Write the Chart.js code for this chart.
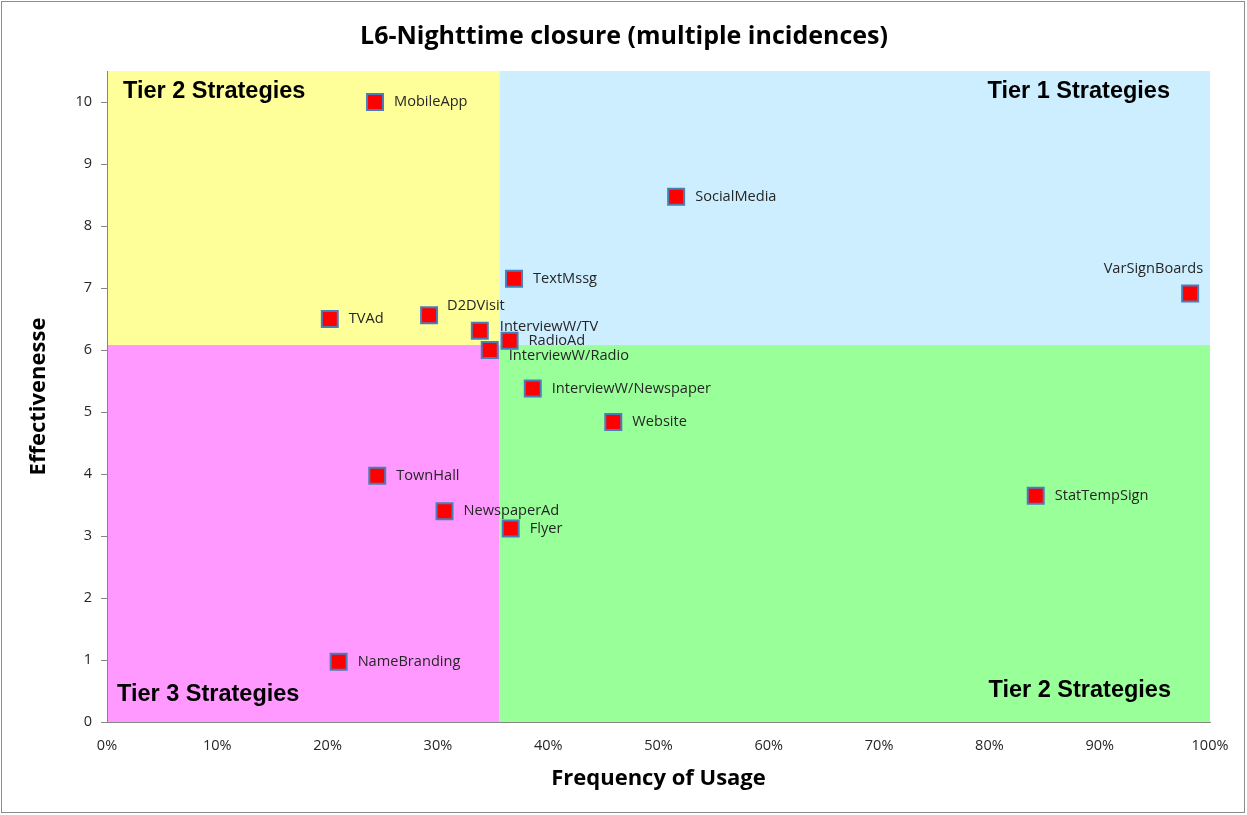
<!DOCTYPE html>
<html>
<head>
<meta charset="utf-8">
<title>L6-Nighttime closure</title>
<script src="https://cdn.jsdelivr.net/npm/chart.js@4.4.1/dist/chart.umd.min.js"></script>
<style>
  html, body { margin: 0; padding: 0; background: #fff; }
  canvas { display: block; }
</style>
</head>
<body>
<canvas id="chart" width="1247" height="815"></canvas>
<script>
// strategies, how often each one is used (%) and how effective it was rated
const strategies = ['MobileApp', 'SocialMedia', 'TextMssg', 'VarSignBoards', 'TVAd', 'D2DVisit',
    'InterviewW/TV', 'RadioAd', 'InterviewW/Radio', 'InterviewW/Newspaper', 'Website',
    'TownHall', 'StatTempSign', 'NewspaperAd', 'Flyer', 'NameBranding'];
const usage = [24.3, 51.6, 36.9, 98.2, 20.2, 29.2, 33.8, 36.5, 34.7, 38.6, 45.9, 24.5, 84.2, 30.6, 36.6, 21.0];
const effectiveness = [10.0, 8.47, 7.15, 6.91, 6.50, 6.56, 6.31, 6.15, 6.00, 5.38, 4.84, 3.97, 3.65, 3.40, 3.12, 0.97];

// where the quadrants split
const usageSplit = 35.6;
const effectSplit = 6.08;

const tierLabels = ['Tier 2 Strategies', 'Tier 1 Strategies', 'Tier 3 Strategies', 'Tier 2 Strategies'];

// labels that do not sit straight to the right of their marker
const labelOffsets = {
    'VarSignBoards': {dx: 13, dy: -25, align: 'right'},
    'D2DVisit': {dx: 18, dy: -9},
    'InterviewW/TV': {dx: 20, dy: -4},
    'InterviewW/Radio': {dx: 19, dy: 6}
};

const quadrantPlugin = {
    id: 'quadrants',
    beforeDraw(chart) {
        const ctx = chart.ctx;
        const a = chart.chartArea;
        const sx = chart.scales.x.getPixelForValue(usageSplit);
        const sy = chart.scales.y.getPixelForValue(effectSplit);
        ctx.save();
        ctx.fillStyle = '#fff';
        ctx.fillRect(0, 0, chart.width, chart.height);
        ctx.strokeStyle = '#8c8c8c';
        ctx.lineWidth = 1;
        ctx.strokeRect(1.5, 1.5, chart.width - 4, chart.height - 4);

        ctx.fillStyle = '#ffff99';
        ctx.fillRect(a.left, a.top, sx - a.left, sy - a.top);
        ctx.fillStyle = '#cceeff';
        ctx.fillRect(sx, a.top, a.right - sx, sy - a.top);
        ctx.fillStyle = '#ff99ff';
        ctx.fillRect(a.left, sy, sx - a.left, a.bottom - sy);
        ctx.fillStyle = '#99ff99';
        ctx.fillRect(sx, sy, a.right - sx, a.bottom - sy);
        ctx.restore();
    },
    beforeDatasetsDraw(chart) {
        const ctx = chart.ctx;
        const a = chart.chartArea;
        ctx.save();
        ctx.font = 'bold 23.5px "Liberation Sans", Arial, sans-serif';
        ctx.fillStyle = '#000';
        ctx.textBaseline = 'middle';
        ctx.textAlign = 'left';
        ctx.fillText(tierLabels[0], a.left + 16, a.top + 21);
        ctx.fillText(tierLabels[2], a.left + 10, a.bottom - 27);
        ctx.textAlign = 'right';
        ctx.fillText(tierLabels[1], a.right - 40, a.top + 21);
        ctx.fillText(tierLabels[3], a.right - 39, a.bottom - 31);
        ctx.restore();
    },
    afterDatasetsDraw(chart) {
        const ctx = chart.ctx;
        const meta = chart.getDatasetMeta(0);
        ctx.save();
        ctx.font = '14.6px "Open Sans", sans-serif';
        ctx.fillStyle = '#262626';
        ctx.textBaseline = 'middle';
        meta.data.forEach((pt, i) => {
            const name = strategies[i];
            const off = labelOffsets[name] || {dx: 19, dy: 0};
            ctx.textAlign = off.align || 'left';
            ctx.fillText(name, pt.x + off.dx, pt.y + off.dy);
        });
        ctx.restore();
    }
};

const points = usage.map((u, i) => ({x: u, y: effectiveness[i]}));

new Chart(document.getElementById('chart'), {
    type: 'scatter',
    data: {
        datasets: [{
            label: 'Strategies',
            data: points,
            pointStyle: 'rect',
            pointRadius: 11.3,
            pointHoverRadius: 11.3,
            backgroundColor: '#ff0000',
            borderColor: '#4a7ebb',
            borderWidth: 2
        }]
    },
    options: {
        responsive: false,
        animation: false,
        devicePixelRatio: 1,
        layout: {padding: {left: 38, right: 37, top: 0, bottom: 10}},
        plugins: {
            legend: {display: false},
            tooltip: {enabled: false},
            title: {
                display: true,
                text: 'L6-Nighttime closure (multiple incidences)',
                color: '#000',
                font: {family: '"Open Sans", sans-serif', size: 25, weight: 'bold'},
                padding: {top: 22, bottom: 19}
            }
        },
        scales: {
            x: {
                type: 'linear',
                min: 0,
                max: 100,
                grid: {drawOnChartArea: false, drawTicks: false},
                border: {color: '#868686', width: 1},
                ticks: {
                    stepSize: 10,
                    padding: 15,
                    color: '#262626',
                    font: {family: '"Open Sans", sans-serif', size: 14.5},
                    callback: v => v + '%'
                },
                title: {
                    display: true,
                    text: 'Frequency of Usage',
                    color: '#000',
                    font: {family: '"Open Sans", sans-serif', size: 22, weight: 'bold'},
                    padding: {top: 0, bottom: 13}
                },
                afterFit(scale) { scale.height = 83; }
            },
            y: {
                min: 0,
                max: 10.5,
                grid: {drawOnChartArea: false, tickLength: 6, tickColor: '#868686'},
                border: {color: '#868686', width: 1},
                ticks: {
                    stepSize: 1,
                    padding: 9,
                    color: '#262626',
                    font: {family: '"Open Sans", sans-serif', size: 14.5}
                },
                title: {
                    display: true,
                    text: 'Effectivenesse',
                    color: '#000',
                    font: {family: '"Open Sans", sans-serif', size: 22, weight: 'bold'},
                    padding: {top: -12, bottom: 0}
                },
                afterBuildTicks(scale) {
                    scale.ticks = scale.ticks.filter(t => Number.isInteger(t.value));
                },
                afterFit(scale) { scale.width = 69; }
            }
        }
    },
    plugins: [quadrantPlugin]
});
</script>
</body>
</html>
